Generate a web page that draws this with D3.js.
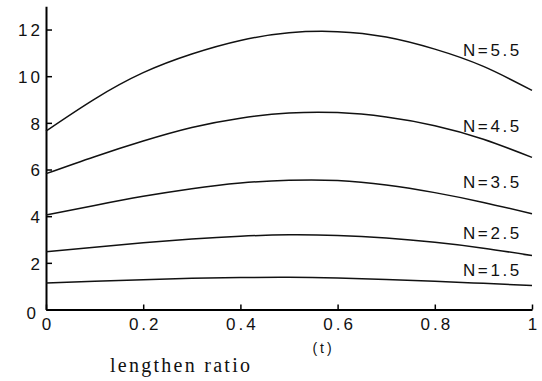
<!DOCTYPE html>
<html>
<head>
<meta charset="utf-8">
<script src="https://cdn.jsdelivr.net/npm/d3@7"></script>
<style>
  html, body { margin: 0; padding: 0; background: #fff; }
  svg { display: block; }
</style>
</head>
<body>
<svg id="chart" width="542" height="381"></svg>
<script>
// ---- data ----
const tValues = [0, 0.1, 0.2, 0.3, 0.4, 0.5, 0.6, 0.7, 0.8, 0.9, 1];
const seriesNames = ["N=5.5", "N=4.5", "N=3.5", "N=2.5", "N=1.5"];
const n55 = [7.65, 9.02, 10.15, 10.95, 11.53, 11.86, 11.91, 11.68, 11.16, 10.42, 9.39];
const n45 = [5.82, 6.55, 7.22, 7.8, 8.2, 8.42, 8.44, 8.25, 7.88, 7.3, 6.52];
const n35 = [4.05, 4.46, 4.85, 5.18, 5.42, 5.54, 5.53, 5.34, 5.01, 4.59, 4.1];
const n25 = [2.47, 2.67, 2.86, 3.02, 3.14, 3.2, 3.17, 3.06, 2.88, 2.63, 2.31];
const n15 = [1.14, 1.21, 1.28, 1.34, 1.37, 1.38, 1.35, 1.29, 1.21, 1.12, 1.03];
const seriesValues = [n55, n45, n35, n25, n15];
const xTicks = [0, 0.2, 0.4, 0.6, 0.8, 1];
const xTickLabels = ["0", "0.2", "0.4", "0.6", "0.8", "1"];
const yTicks = [0, 2, 4, 6, 8, 10, 12];
const yTickLabels = ["0", "2", "4", "6", "8", "10", "12"];
const xAxisLabel = "(t)";
const bottomTitle = "lengthen ratio";

// ---- layout ----
const svg = d3.select("#chart");
const x = d3.scaleLinear().domain([0, 1]).range([46, 532]);
const y = d3.scaleLinear().domain([0, 13]).range([309.5, 6.2]);

const tickFont = "'Liberation Sans', Arial, sans-serif";

// axes
const yAxis = d3.axisLeft(y).tickValues(yTicks)
  .tickFormat((d, i) => yTickLabels[i])
  .tickSizeInner(-6).tickSizeOuter(0).tickPadding(6);
const gy = svg.append("g").attr("transform", "translate(46,0)").call(yAxis);

const xAxis = d3.axisBottom(x).tickValues(xTicks)
  .tickFormat((d, i) => xTickLabels[i])
  .tickSizeInner(-5).tickSizeOuter(0).tickPadding(8);
const gx = svg.append("g").attr("transform", "translate(0,309.5)").call(xAxis);

[gx, gy].forEach(g => {
  g.select(".domain").attr("stroke", "#000").attr("stroke-width", 2);
  g.selectAll(".tick line").attr("stroke", "#000").attr("stroke-width", 1.5);
  g.selectAll(".tick text")
    .attr("fill", "#111")
    .style("font-family", tickFont)
    .style("font-size", "17px")
    .style("letter-spacing", "3px");
});
gy.selectAll(".tick text").attr("dx", "3px").attr("dy", "0.38em");
gx.selectAll(".tick text").attr("dx", "1.5px");
// y "0" label sits slightly lower and further left
gy.selectAll(".tick text").filter(d => d === 0).attr("x", -10).attr("dy", "0.5em");

// curves
const line = d3.line()
  .x((d, i) => x(tValues[i]))
  .y(d => y(d))
  .curve(d3.curveNatural);

svg.append("g").selectAll("path.curve")
  .data(seriesValues)
  .join("path")
  .attr("class", "curve")
  .attr("d", line)
  .attr("fill", "none")
  .attr("stroke", "#111")
  .attr("stroke-width", 1.5);

// curve labels (placed above right portion of each curve)
const labelOffsets = [11.12, 7.86, 5.46, 3.28, 1.69];
svg.append("g").selectAll("text.lbl")
  .data(seriesNames)
  .join("text")
  .attr("class", "lbl")
  .attr("x", x(0.858))
  .attr("y", (d, i) => y(labelOffsets[i]))
  .attr("dy", "0.36em")
  .attr("fill", "#111")
  .style("font-family", tickFont)
  .style("font-size", "17px")
  .style("letter-spacing", "2.6px")
  .text(d => d);

// axis label "(t)"
svg.append("text")
  .attr("x", x(0.571))
  .attr("y", 353)
  .attr("text-anchor", "middle")
  .attr("fill", "#111")
  .style("font-family", tickFont)
  .style("font-size", "14px")
  .style("letter-spacing", "3px")
  .text(xAxisLabel);

// bottom title
svg.append("text")
  .attr("x", 110)
  .attr("y", 372)
  .attr("textLength", 140)
  .attr("lengthAdjust", "spacing")
  .attr("fill", "#111")
  .style("font-family", "'Liberation Serif', 'Times New Roman', serif")
  .style("font-size", "20px")
  .text(bottomTitle);
</script>
</body>
</html>
